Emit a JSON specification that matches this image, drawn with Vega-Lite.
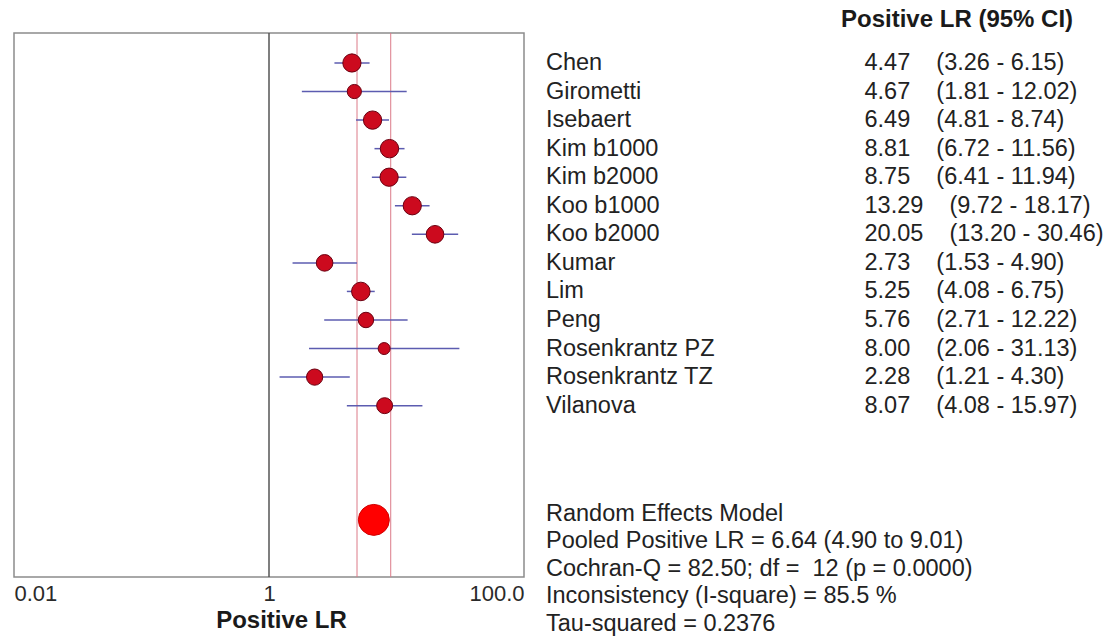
{
  "$schema": "https://vega.github.io/schema/vega-lite/v6.json",
  "background": "white",
  "padding": {"left": 13, "top": 8, "right": 0, "bottom": 2},
  "bounds": "flush",
  "spacing": 0,
  "config": {"view": {"stroke": null}, "font": "Liberation Sans"},
  "resolve": {"scale": {"x": "independent", "y": "shared", "size": "independent"}},
  "datasets": {
    "studies": [
      {"study": "Chen", "row": 0, "lr": 4.47, "lo": 3.26, "hi": 6.15, "weight": 9.14, "est": "4.47\u00a0\u00a0\u00a0\u00a0(3.26 - 6.15)"},
      {"study": "Girometti", "row": 1, "lr": 4.67, "lo": 1.81, "hi": 12.02, "weight": 5.11, "est": "4.67\u00a0\u00a0\u00a0\u00a0(1.81 - 12.02)"},
      {"study": "Isebaert", "row": 2, "lr": 6.49, "lo": 4.81, "hi": 8.74, "weight": 9.24, "est": "6.49\u00a0\u00a0\u00a0\u00a0(4.81 - 8.74)"},
      {"study": "Kim b1000", "row": 3, "lr": 8.81, "lo": 6.72, "hi": 11.56, "weight": 9.38, "est": "8.81\u00a0\u00a0\u00a0\u00a0(6.72 - 11.56)"},
      {"study": "Kim b2000", "row": 4, "lr": 8.75, "lo": 6.41, "hi": 11.94, "weight": 9.16, "est": "8.75\u00a0\u00a0\u00a0\u00a0(6.41 - 11.94)"},
      {"study": "Koo b1000", "row": 5, "lr": 13.29, "lo": 9.72, "hi": 18.17, "weight": 9.16, "est": "13.29\u00a0\u00a0\u00a0\u00a0(9.72 - 18.17)"},
      {"study": "Koo b2000", "row": 6, "lr": 20.05, "lo": 13.2, "hi": 30.46, "weight": 8.51, "est": "20.05\u00a0\u00a0\u00a0\u00a0(13.20 - 30.46)"},
      {"study": "Kumar", "row": 7, "lr": 2.73, "lo": 1.53, "hi": 4.9, "weight": 7.4, "est": "2.73\u00a0\u00a0\u00a0\u00a0(1.53 - 4.90)"},
      {"study": "Lim", "row": 8, "lr": 5.25, "lo": 4.08, "hi": 6.75, "weight": 9.5, "est": "5.25\u00a0\u00a0\u00a0\u00a0(4.08 - 6.75)"},
      {"study": "Peng", "row": 9, "lr": 5.76, "lo": 2.71, "hi": 12.22, "weight": 6.27, "est": "5.76\u00a0\u00a0\u00a0\u00a0(2.71 - 12.22)"},
      {"study": "Rosenkrantz PZ", "row": 10, "lr": 8.0, "lo": 2.06, "hi": 31.13, "weight": 3.35, "est": "8.00\u00a0\u00a0\u00a0\u00a0(2.06 - 31.13)"},
      {"study": "Rosenkrantz TZ", "row": 11, "lr": 2.28, "lo": 1.21, "hi": 4.3, "weight": 7.04, "est": "2.28\u00a0\u00a0\u00a0\u00a0(1.21 - 4.30)"},
      {"study": "Vilanova", "row": 12, "lr": 8.07, "lo": 4.08, "hi": 15.97, "weight": 6.73, "est": "8.07\u00a0\u00a0\u00a0\u00a0(4.08 - 15.97)"}
    ],
    "pooled": [
      {"model": "Random Effects Model", "row": 16, "lr": 6.64, "lo": 4.9, "hi": 9.01}
    ],
    "notes": [
      {"header": "Positive LR (95% CI)", "stats": "Random Effects Model\nPooled Positive LR = 6.64 (4.90 to 9.01)\nCochran-Q = 82.50; df = \u00a012 (p = 0.0000)\nInconsistency (I-square) = 85.5 %\nTau-squared = 0.2376"}
    ]
  },
  "hconcat": [
    {
      "width": 510,
      "height": 544,
      "view": {"stroke": "#8c8c8c", "strokeWidth": 1.5},
      "layer": [
        {
          "data": {"name": "pooled"},
          "mark": {"type": "rule", "color": "#dc7a88", "strokeWidth": 1},
          "encoding": {
            "x": {
              "field": "lo", "type": "quantitative",
              "scale": {"type": "log", "domain": [0.01, 100], "nice": false},
              "axis": {
                "values": [0.01, 1, 100],
                "labelExpr": "datum.value >= 100 ? '100.0' : (datum.value == 1 ? '1' : '0.01')",
                "labelFlush": true,
                "domain": false, "ticks": false, "grid": false,
                "labelFont": "Liberation Sans", "labelFontSize": 22, "labelColor": "#2a2a2a", "labelPadding": 6,
                "title": "Positive LR", "titleFont": "Liberation Sans", "titleFontSize": 24, "titleFontWeight": "bold",
                "titleColor": "#1a1a1a", "titlePadding": 4, "titleX": 267
              }
            }
          }
        },
        {
          "data": {"name": "pooled"},
          "mark": {"type": "rule", "color": "#dc7a88", "strokeWidth": 1},
          "encoding": {"x": {"field": "hi", "type": "quantitative"}}
        },
        {
          "data": {"values": [{"ref": 1}]},
          "mark": {"type": "rule", "color": "#555555", "strokeWidth": 1.5},
          "encoding": {"x": {"field": "ref", "type": "quantitative"}}
        },
        {
          "data": {"name": "studies"},
          "mark": {"type": "rule", "color": "#5c5cb0", "strokeWidth": 1.5},
          "encoding": {
            "x": {"field": "lo", "type": "quantitative"},
            "x2": {"field": "hi"},
            "y": {"field": "row", "type": "quantitative", "scale": {"domain": [-1.05, 18], "reverse": true, "nice": false, "zero": false}, "axis": null}
          }
        },
        {
          "data": {"name": "studies"},
          "mark": {"type": "circle", "fill": "#cc0a1e", "stroke": "#6a0010", "strokeWidth": 1, "opacity": 1},
          "encoding": {
            "x": {"field": "lr", "type": "quantitative"},
            "y": {"field": "row", "type": "quantitative"},
            "size": {"field": "weight", "type": "quantitative", "scale": {"domain": [3.35, 9.5], "range": [144, 344]}, "legend": null}
          }
        },
        {
          "data": {"name": "pooled"},
          "mark": {"type": "circle", "fill": "#ff0000", "stroke": "#d00000", "strokeWidth": 1, "size": 960, "opacity": 1},
          "encoding": {
            "x": {"field": "lr", "type": "quantitative"},
            "y": {"field": "row", "type": "quantitative"}
          }
        }
      ]
    },
    {
      "width": 593,
      "height": 544,
      "layer": [
        {
          "data": {"name": "notes"},
          "mark": {"type": "text", "align": "left", "baseline": "middle", "font": "Liberation Sans", "fontSize": 24, "fontWeight": "bold", "color": "#1a1a1a"},
          "encoding": {
            "x": {"datum": 0.5346, "type": "quantitative", "scale": {"domain": [0, 1], "nice": false, "zero": false}, "axis": null},
            "y": {"datum": -1.505, "type": "quantitative", "axis": null},
            "text": {"field": "header"}
          }
        },
        {
          "data": {"name": "studies"},
          "mark": {"type": "text", "align": "left", "baseline": "middle", "font": "Liberation Sans", "fontSize": 23.5, "color": "#222222"},
          "encoding": {
            "x": {"datum": 0.0371, "type": "quantitative"},
            "y": {"field": "row", "type": "quantitative"},
            "text": {"field": "study"}
          }
        },
        {
          "data": {"name": "studies"},
          "mark": {"type": "text", "align": "left", "baseline": "middle", "font": "Liberation Sans", "fontSize": 23.5, "color": "#222222"},
          "encoding": {
            "x": {"datum": 0.5742, "type": "quantitative"},
            "y": {"field": "row", "type": "quantitative"},
            "text": {"field": "est"}
          }
        },
        {
          "data": {"name": "notes"},
          "mark": {"type": "text", "align": "left", "baseline": "top", "lineBreak": "\n", "lineHeight": 27.5, "font": "Liberation Sans", "fontSize": 23.5, "color": "#222222"},
          "encoding": {
            "x": {"datum": 0.0371, "type": "quantitative"},
            "y": {"datum": 15.37, "type": "quantitative"},
            "text": {"field": "stats"}
          }
        }
      ]
    }
  ]
}
